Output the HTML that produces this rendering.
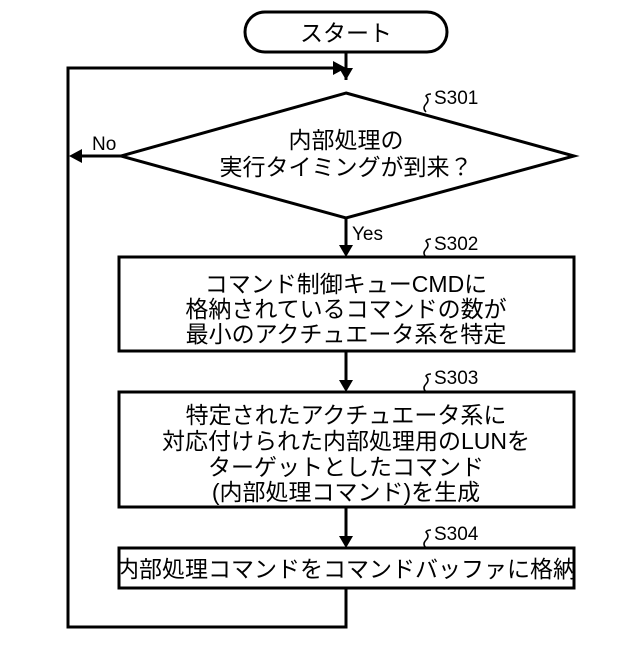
<!DOCTYPE html>
<html><head><meta charset="utf-8"><style>
body{margin:0;background:#fff}
svg text{font-family:"Liberation Sans","Noto Sans CJK JP",sans-serif;fill:#000}
</style></head><body>
<svg width="640" height="640" viewBox="0 0 640 640" xmlns="http://www.w3.org/2000/svg">
<g stroke="#000" stroke-width="3" fill="none">
<rect x="245" y="12" width="202" height="40" rx="20"/>
<line x1="346" y1="52" x2="346" y2="80"/>
<path d="M346,80 l-7,-12 h14 z" fill="#000" stroke="none"/>
<path d="M346,93 L574,156 L346,218 L121,156 Z"/>
<line x1="121" y1="156" x2="82" y2="156"/>
<path d="M69,156 l13,-7 v14 z" fill="#000" stroke="none"/>
<line x1="346" y1="218" x2="346" y2="245"/>
<path d="M346,257 l-7,-12 h14 z" fill="#000" stroke="none"/>
<rect x="119" y="257" width="455" height="94"/>
<line x1="346" y1="351" x2="346" y2="380"/>
<path d="M346,392 l-7,-12 h14 z" fill="#000" stroke="none"/>
<rect x="119" y="392" width="455" height="115"/>
<line x1="346" y1="507" x2="346" y2="536"/>
<path d="M346,548 l-7,-12 h14 z" fill="#000" stroke="none"/>
<rect x="119" y="548" width="455" height="40"/>
<polyline points="346,588 346,627 68,627 68,68 333,68"/>
<path d="M346,68 l-13,-7 v14 z" fill="#000" stroke="none"/>
<g stroke-width="1.5">
<path d="M426,112 q-4,-4 0,-8 q4,-4 0,-8 q1,-2 5,-2"/>
<path d="M426,257 q-4,-4 0,-8 q4,-4 0,-8 q1,-2 5,-2"/>
<path d="M426,392 q-4,-4 0,-8 q4,-4 0,-8 q1,-2 5,-2"/>
<path d="M426,548 q-4,-4 0,-8 q4,-4 0,-8 q1,-2 5,-2"/>
</g>
</g>
<g font-size="23" text-anchor="middle">
<text x="346" y="41">スタート</text>
<text x="346" y="148">内部処理の</text>
<text x="346" y="175">実行タイミングが到来？</text>
<text x="346" y="292">コマンド制御キューCMDに</text>
<text x="346" y="317">格納されているコマンドの数が</text>
<text x="346" y="342">最小のアクチュエータ系を特定</text>
<text x="346" y="423">特定されたアクチュエータ系に</text>
<text x="346" y="449">対応付けられた内部処理用のLUNを</text>
<text x="346" y="475">ターゲットとしたコマンド</text>
<text x="346" y="500">(内部処理コマンド)を生成</text>
<text x="346" y="577">内部処理コマンドをコマンドバッファに格納</text>
</g>
<g font-size="19">
<text x="92" y="150">No</text>
<text x="352" y="240">Yes</text>
<text x="434" y="104">S301</text>
<text x="434" y="250">S302</text>
<text x="434" y="384">S303</text>
<text x="434" y="540">S304</text>
</g>
</svg>
</body></html>
